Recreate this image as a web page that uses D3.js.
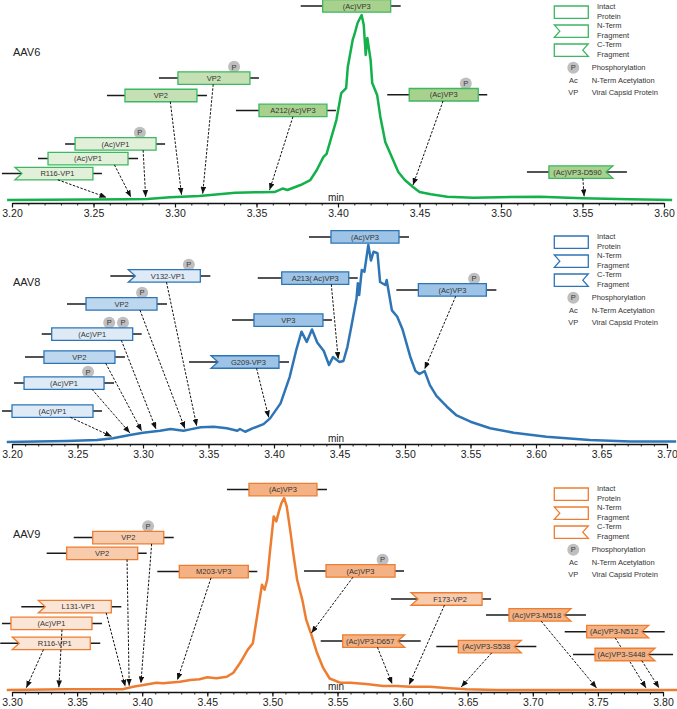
<!DOCTYPE html>
<html>
<head>
<meta charset="utf-8">
<script src="https://cdn.jsdelivr.net/npm/d3@7"></script>
<style>
  body { margin: 0; background: #fff; }
  svg { display: block; font-family: "Liberation Sans", Arial, sans-serif; }
</style>
</head>
<body>
<svg id="chart" width="677" height="709"></svg>
<script>
// ---- Data (time in min, signal in % of the main peak) ----
var aav6Time = [3.197,3.272,3.283,3.297,3.315,3.337,3.352,3.361,3.366,3.369,3.377,3.383,3.387,3.391,3.393,
  3.396,3.399,3.402,3.405,3.406,3.409,3.410,3.412,3.4145,3.4158,3.417,3.418,3.420,3.421,3.424,
  3.426,3.429,3.433,3.437,3.441,3.446,3.450,3.457,3.467,3.483,3.499,3.524,3.550,3.579,3.605];
var aav6Signal = [0,0.4,0.5,1.5,2.2,3.9,4.2,4.3,6.2,5.4,8.1,10.8,16.2,23.2,24.9,
  34.1,43.2,57.8,60.5,71.9,86.5,89.2,95.7,100,94.6,78.4,87.6,75.7,63.2,56.8,
  44.9,31.4,23.2,15.1,10.8,7.0,4.3,3.1,1.8,1.2,1.5,1.8,0.9,0.4,0];

var aav8Time = [3.196,3.242,3.265,3.277,3.290,3.300,3.313,3.321,3.331,3.336,3.344,3.354,3.364,3.372,3.374,
  3.378,3.384,3.392,3.397,3.405,3.412,3.417,3.421,3.425,3.429,3.433,3.438,3.442,3.445,3.450,
  3.453,3.456,3.459,3.463,3.464,3.465,3.467,3.469,3.472,3.474,3.476,3.479,3.481,3.485,3.486,
  3.490,3.494,3.498,3.504,3.508,3.511,3.515,3.519,3.524,3.532,3.539,3.550,3.565,3.583,3.608,
  3.641,3.672,3.707];
var aav8Signal = [0,0.5,1.0,1.9,3.6,4.7,5.7,6.6,5.7,6.4,7.5,7.8,7.0,5.7,6.6,
  5.2,7.0,9.1,12.0,19.6,33.1,46.7,56.0,50.8,57.1,50.5,46.2,39.1,43.1,40.6,
  41.1,48.2,58.5,72.9,80.6,74.6,87.3,86.4,100,92.1,96.6,95.8,81.2,79.7,82.2,
  66.8,63.7,57.4,43.3,36.0,34.5,36.0,28.9,23.4,17.9,13.7,10.3,7.0,4.7,2.7,
  1.0,0.2,0.2];

var aav9Time = [3.296,3.342,3.385,3.393,3.401,3.411,3.416,3.429,3.437,3.444,3.450,3.457,3.465,3.470,3.475,
  3.481,3.485,3.489,3.492,3.494,3.496,3.498,3.501,3.503,3.505,3.507,3.509,3.511,3.514,3.516,
  3.519,3.523,3.526,3.530,3.534,3.539,3.544,3.552,3.560,3.572,3.585,3.595,3.606,3.621,3.636,
  3.649,3.672,3.723,3.775,3.811];
var aav9Signal = [0,0.4,0.4,1.7,2.6,3.8,3.5,4.3,5.2,5.6,6.6,6.1,6.9,9.0,13.9,
  20.9,24.4,41.7,54.8,52.2,57.4,71.3,90.4,87.8,93.0,97.4,100,95.6,81.7,71.3,
  57.4,46.9,36.5,28.7,19.8,11.5,6.0,3.8,3.8,3.1,2.1,2.1,1.7,1.7,0.9,
  0.4,0,0,0,0];

var aav6Ticks = [3.20,3.25,3.30,3.35,3.40,3.45,3.50,3.55,3.60];
var aav8Ticks = [3.20,3.25,3.30,3.35,3.40,3.45,3.50,3.55,3.60,3.65,3.70];
var aav9Ticks = [3.30,3.35,3.40,3.45,3.50,3.55,3.60,3.65,3.70,3.75,3.80];

// ---- Peak annotations: label, shape (i intact, n N-term, c C-term), shade (0 VP1, 1 VP2, 2 VP3),
//      number of phosphorylations, retention time the arrow points at ----
var aav6Labels  = ['R116-VP1','(Ac)VP1','(Ac)VP1','VP2','VP2','A212(Ac)VP3','(Ac)VP3','(Ac)VP3','(Ac)VP3-D590'];
var aav6Shapes  = ['n','i','i','i','i','i','i','i','c'];
var aav6Shades  = [0,0,0,1,1,2,2,2,2];
var aav6Phospho = [0,0,1,0,1,0,0,1,0];
var aav6Targets = [3.258,3.273,3.282,3.304,3.317,3.358,null,3.446,3.551];

var aav8Labels  = ['(Ac)VP1','(Ac)VP1','VP2','(Ac)VP1','VP2','V132-VP1','G209-VP3','VP3','A213( Ac)VP3','(Ac)VP3','(Ac)VP3'];
var aav8Shapes  = ['i','i','i','i','i','n','n','i','i','i','i'];
var aav8Shades  = [0,0,1,0,1,0,2,2,2,2,2];
var aav8Phospho = [0,1,0,2,1,1,0,0,0,0,1];
var aav8Targets = [3.276,3.290,3.299,3.310,3.332,3.341,3.396,null,3.449,null,3.515];

var aav9Labels  = ['R116-VP1','(Ac)VP1','L131-VP1','VP2','VP2','M203-VP3','(Ac)VP3','(Ac)VP3','F173-VP2',
  '(Ac)VP3-D657','(Ac)VP3-S538','(Ac)VP3-M518','(Ac)VP3-N512','(Ac)VP3-S448'];
var aav9Shapes  = ['n','i','n','i','i','i','i','i','n','c','c','c','c','c'];
var aav9Shades  = [0,0,0,1,1,2,2,2,1,2,2,2,2,2];
var aav9Phospho = [0,0,0,0,1,0,0,1,0,0,0,0,0,0];
var aav9Targets = [3.311,3.336,3.387,3.390,3.399,3.427,null,3.530,3.605,3.592,3.645,3.749,3.787,3.797];

var legendLabels = [['Intact','Protein'],['N-Term','Fragment'],['C-Term','Fragment']];
var legendKeys = [['P','Phosphorylation'],['Ac','N-Term Acetylation'],['VP','Viral Capsid Protein']];

// ---- Layout of the annotation boxes: [box left time, box level, box width px,
//      line overhang left px, arrow start as share of box width, phospho positions as share of width] ----
var aav6Layout = [
  [3.2018,14.3,78,13,0.55],[3.2221,22.4,80,10,0.83],[3.2387,30.3,81,10,0.84,[0.80]],
  [3.2693,56.5,72,18,0.63],[3.3018,65.9,72,19,0.49,[0.78]],[3.3515,48.4,68,23,0.50],
  [3.3906,104.9,68,22,0],[3.4437,56.9,69,22,0.49,[0.82]],[3.5294,15.1,64,22,0.53]
];
var aav8Layout = [
  [3.2000,15.7,81,10,0.72],[3.2092,29.9,80,10,0.85,[0.80]],[3.2244,43.1,71,19,0.87],
  [3.2303,54.8,81,10,0.86,[0.71,0.88]],[3.2565,70.1,71,19,0.76,[0.79]],[3.2888,84.3,72,18,0.53,[0.84]],
  [3.3519,40.6,68,22,0.67],[3.3847,61.9,69,22,0],[3.4059,83.2,67,24,0.74],
  [3.4435,104.1,68,22,0],[3.5102,77.2,68,22,0.55,[0.82]]
];
var aav9Layout = [
  [3.3002,24.3,78,12,0.40],[3.2992,34.7,81,9,0.63],[3.3202,43.4,73,17,0.93],
  [3.3420,71.2,71,20,0.85],[3.3620,79.4,71,19,0.83,[0.78]],[3.4285,61.7,69,22,0.46],
  [3.4820,104.4,68,22,0],[3.5412,62.0,69,22,0.39,[0.82]],[3.6065,47.4,71,20,0.47],
  [3.5540,25.5,62,22,0.56],[3.6428,22.6,63,22,0.53],[3.6817,39.1,62,23,0.52],
  [3.7414,30.4,62,22,0.46],[3.7478,18.5,60,22,0.78]
];

var PANELS = [
  { name: 'AAV6', time: aav6Time, signal: aav6Signal, ticks: aav6Ticks, domain: [3.20, 3.60], xEnd: 664,
    axisY: 203, baseY: 200, peakY: 15, top: 0,
    line: '#14b04c', stroke: '#3db762', fills: ['#e2f0d9', '#c5e0b4', '#a9d18e'],
    labels: aav6Labels, shapes: aav6Shapes, shades: aav6Shades, phospho: aav6Phospho, targets: aav6Targets, layout: aav6Layout },
  { name: 'AAV8', time: aav8Time, signal: aav8Signal, ticks: aav8Ticks, domain: [3.20, 3.70], xEnd: 667,
    axisY: 444, baseY: 442, peakY: 245, top: 230,
    line: '#2e75b6', stroke: '#2e75b6', fills: ['#deebf7', '#bdd7ee', '#9dc3e6'],
    labels: aav8Labels, shapes: aav8Shapes, shades: aav8Shades, phospho: aav8Phospho, targets: aav8Targets, layout: aav8Layout },
  { name: 'AAV9', time: aav9Time, signal: aav9Signal, ticks: aav9Ticks, domain: [3.30, 3.80], xEnd: 663,
    axisY: 692, baseY: 690, peakY: 498, top: 482,
    line: '#ed7d31', stroke: '#ed7d31', fills: ['#fbe5d6', '#f8cbad', '#f4b183'],
    labels: aav9Labels, shapes: aav9Shapes, shades: aav9Shades, phospho: aav9Phospho, targets: aav9Targets, layout: aav9Layout }
];

var BOX_H = 12.5, NOTCH = 7, LINE_LEN = 100, P_R = 6;

var svg = d3.select('#chart');

svg.append('defs').append('marker')
  .attr('id', 'arrowhead')
  .attr('viewBox', '0 0 10 8')
  .attr('refX', 10).attr('refY', 4)
  .attr('markerWidth', 7).attr('markerHeight', 5.6)
  .attr('markerUnits', 'userSpaceOnUse')
  .attr('orient', 'auto')
  .append('path').attr('d', 'M0,0L10,4L0,8Z').attr('fill', '#111');

// box outline with optional notch on the cut end
function boxPath(x, y, w, h, shape, notch) {
  if (shape === 'n') {
    return 'M' + x + ',' + y + 'H' + (x + w) + 'V' + (y + h) + 'H' + x +
      'L' + (x + notch) + ',' + (y + h / 2) + 'Z';
  }
  if (shape === 'c') {
    return 'M' + x + ',' + y + 'H' + (x + w) + 'L' + (x + w - notch) + ',' + (y + h / 2) +
      'L' + (x + w) + ',' + (y + h) + 'H' + x + 'Z';
  }
  return 'M' + x + ',' + y + 'H' + (x + w) + 'V' + (y + h) + 'H' + x + 'Z';
}

// linear read of the trace at time t
function signalAt(p, t) {
  var i = d3.bisectLeft(p.time, t);
  if (i <= 0) return p.signal[0];
  if (i >= p.time.length) return p.signal[p.signal.length - 1];
  var t0 = p.time[i - 1], t1 = p.time[i];
  return p.signal[i - 1] + (p.signal[i] - p.signal[i - 1]) * (t - t0) / (t1 - t0);
}

function phosphoMark(g, cx, cy) {
  g.append('circle').attr('cx', cx).attr('cy', cy).attr('r', P_R).attr('fill', '#bfbfbf');
  g.append('text').attr('x', cx).attr('y', cy).attr('dy', '0.36em')
    .attr('text-anchor', 'middle').attr('font-size', 7.5).attr('fill', '#3a3a3a').text('P');
}

PANELS.forEach(function(p) {
  var x = d3.scaleLinear().domain(p.domain).range([12, p.xEnd]);
  var y = d3.scaleLinear().domain([0, 100]).range([p.baseY, p.peakY]);
  var g = svg.append('g').attr('class', 'panel');

  // minor ticks every 0.01 min
  var minor = g.append('g').attr('transform', 'translate(0,' + p.axisY + ')')
    .call(d3.axisBottom(x).tickValues(x.ticks(Math.round((p.domain[1] - p.domain[0]) * 100)))
      .tickSize(2.5).tickSizeOuter(0).tickFormat(''));
  minor.select('.domain').remove();
  minor.selectAll('line').attr('stroke', '#222');

  var axis = g.append('g').attr('transform', 'translate(0,' + p.axisY + ')')
    .call(d3.axisBottom(x).tickValues(p.ticks).tickSize(4.5).tickSizeOuter(0)
      .tickFormat(d3.format('.2f')));
  axis.select('.domain').attr('stroke', '#111').attr('stroke-width', 1.5);
  axis.selectAll('line').attr('stroke', '#111').attr('stroke-width', 1.2);
  axis.selectAll('text').attr('font-size', 10.5).attr('fill', '#222')
    .attr('font-family', '"Liberation Sans", Arial, sans-serif').attr('y', 7);

  g.append('text').attr('x', 328).attr('y', p.axisY - 2)
    .attr('font-size', 10).attr('fill', '#222').text('min');

  g.append('text').attr('x', 13).attr('y', p.top + 55.5)
    .attr('font-size', 11).attr('fill', '#222').text(p.name);

  // trace
  var pts = p.time.map(function(t, i) { return [t, p.signal[i]]; });
  g.append('path').datum(pts)
    .attr('fill', 'none').attr('stroke', p.line).attr('stroke-width', 2.5)
    .attr('stroke-linejoin', 'round')
    .attr('d', d3.line().x(function(d) { return x(d[0]); }).y(function(d) { return y(d[1]); }));

  // annotations
  p.labels.forEach(function(label, i) {
    var lay = p.layout[i];
    var bx = x(lay[0]), w = lay[2];
    var by = y(lay[1]) - BOX_H / 2;
    var shape = p.shapes[i];
    var a = g.append('g').attr('class', 'annotation');

    a.append('line')
      .attr('x1', bx - lay[3]).attr('x2', bx - lay[3] + LINE_LEN)
      .attr('y1', by + BOX_H / 2).attr('y2', by + BOX_H / 2)
      .attr('stroke', '#1a1a1a').attr('stroke-width', 1.5);

    if (lay[5]) {
      lay[5].forEach(function(f) { phosphoMark(a, bx + f * w, by - 5); });
    }

    a.append('path')
      .attr('d', boxPath(bx, by, w, BOX_H, shape, NOTCH))
      .attr('fill', p.fills[p.shades[i]])
      .attr('stroke', p.stroke).attr('stroke-width', 1.3);

    // keep the label clear of the notch
    var shift = shape === 'n' ? NOTCH / 2 : (shape === 'c' ? -NOTCH / 2 : 0);
    a.append('text')
      .attr('x', bx + w / 2 + shift).attr('y', by + BOX_H / 2).attr('dy', '0.35em')
      .attr('text-anchor', 'middle').attr('font-size', 7.5).attr('fill', '#333')
      .text(label);

    var tt = p.targets[i];
    if (tt !== null) {
      a.append('line')
        .attr('x1', bx + lay[4] * w).attr('y1', by + BOX_H)
        .attr('x2', x(tt)).attr('y2', y(signalAt(p, tt)) - 2)
        .attr('stroke', '#111').attr('stroke-width', 1)
        .attr('stroke-dasharray', '2.5,1.5')
        .attr('marker-end', 'url(#arrowhead)');
    }
  });

  // legend
  var lg = g.append('g').attr('transform', 'translate(0,' + (p.top + 6) + ')');
  ['i', 'n', 'c'].forEach(function(s, k) {
    var ty = k * 19;
    lg.append('path').attr('d', boxPath(554.3, ty, 34, 12.3, s, 5.5))
      .attr('fill', '#fff').attr('stroke', p.stroke).attr('stroke-width', 1.3);
    lg.append('text').attr('x', 597).attr('y', ty + 3.4)
      .attr('font-size', 7.5).attr('fill', '#333').text(legendLabels[k][0]);
    lg.append('text').attr('x', 597).attr('y', ty + 13.2)
      .attr('font-size', 7.5).attr('fill', '#333').text(legendLabels[k][1]);
  });
  legendKeys.forEach(function(d, k) {
    var cy = 61.7 + k * 12.3;
    if (k === 0) {
      phosphoMark(lg, 573.3, cy);
    } else {
      lg.append('text').attr('x', 573.3).attr('y', cy).attr('dy', '0.36em')
        .attr('text-anchor', 'middle').attr('font-size', 7.5).attr('fill', '#333').text(d[0]);
    }
    lg.append('text').attr('x', 591.7).attr('y', cy).attr('dy', '0.36em')
      .attr('font-size', 7.5).attr('fill', '#333').text(d[1]);
  });
});
</script>
</body>
</html>
